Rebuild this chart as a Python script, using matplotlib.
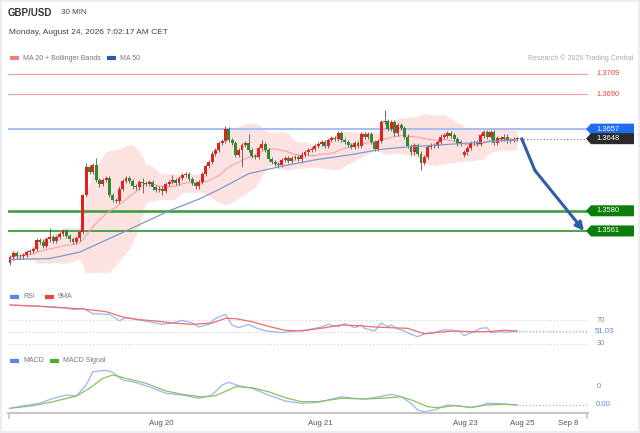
import matplotlib
matplotlib.use("Agg")
import matplotlib.pyplot as plt
import numpy as np
import pandas as pd
from matplotlib.patches import Polygon, Rectangle
from matplotlib.lines import Line2D

plt.rcParams['font.family'] = ['Liberation Sans', 'DejaVu Sans']

# ---- data (30 min candles, GBP/USD) ----
closes = [
    1.3536, 1.3540, 1.3537, 1.3537, 1.3538, 1.3541, 1.3542, 1.3544, 1.3552, 1.3551,
    1.3547, 1.3553, 1.3555, 1.3552, 1.3555, 1.3558, 1.3561, 1.3556, 1.3553, 1.3551,
    1.3554, 1.3560, 1.3595, 1.3621, 1.3617, 1.3623, 1.3609, 1.3605, 1.3609, 1.3611,
    1.3595, 1.3590, 1.3589, 1.3601, 1.3608, 1.3611, 1.3608, 1.3603, 1.3602, 1.3607,
    1.3606, 1.3605, 1.3607, 1.3602, 1.3600, 1.3601, 1.3599, 1.3605, 1.3607, 1.3609,
    1.3606, 1.3611, 1.3614, 1.3615, 1.3610, 1.3606, 1.3603, 1.3607, 1.3615, 1.3622,
    1.3626, 1.3634, 1.3637, 1.3644, 1.3646, 1.3657, 1.3647, 1.3644, 1.3633, 1.3637,
    1.3642, 1.3644, 1.3637, 1.3632, 1.3631, 1.3639, 1.3643, 1.3637, 1.3629, 1.3626,
    1.3624, 1.3623, 1.3628, 1.3630, 1.3627, 1.3630, 1.3631, 1.3629, 1.3633, 1.3635,
    1.3637, 1.3638, 1.3641, 1.3643, 1.3645, 1.3641, 1.3647, 1.3649, 1.3648, 1.3653,
    1.3647, 1.3645, 1.3642, 1.3640, 1.3644, 1.3641, 1.3652, 1.3650, 1.3652, 1.3645,
    1.3638, 1.3646, 1.3664, 1.3665, 1.3657, 1.3664, 1.3653, 1.3661, 1.3658, 1.3650,
    1.3641, 1.3635, 1.3642, 1.3634, 1.3625, 1.3631, 1.3640, 1.3642, 1.3641, 1.3645,
    1.3650, 1.3651, 1.3653, 1.3651, 1.3648, 1.3643, 1.3645, 1.3635, 1.3639, 1.3644,
    1.3645, 1.3643, 1.3651, 1.3654, 1.3650, 1.3654, 1.3644, 1.3649, 1.3648, 1.3650,
    1.3646, 1.3647, 1.3648, 1.3648,
]
first_open = 1.3531
weekend_idx = 137          # Sunday open candle
weekend_open = 1.3633

# wick lengths in pips above / below the body
wick_up = [
    2, 2, 2, 2, 2, 2, 2, 2, 2, 2,
    2, 2, 9, 2, 2, 2, 2, 2, 2, 2,
    2, 2, 1, 4, 2, 2, 7, 2, 2, 2,
    2, 2, 2, 2, 2, 2, 2, 2, 2, 2,
    4, 2, 2, 2, 2, 2, 2, 2, 2, 5,
    2, 2, 2, 2, 2, 2, 2, 2, 2, 2,
    2, 2, 2, 2, 2, 3, 2, 2, 2, 2,
    2, 2, 8, 2, 2, 2, 4, 2, 2, 2,
    2, 2, 2, 2, 2, 2, 2, 2, 2, 2,
    2, 2, 2, 2, 2, 2, 2, 2, 2, 2,
    2, 2, 2, 2, 2, 2, 2, 2, 2, 2,
    2, 2, 2, 10, 2, 2, 2, 2, 2, 2,
    2, 2, 2, 2, 2, 2, 2, 2, 2, 2,
    2, 2, 2, 2, 2, 2, 2, 2, 2, 2,
    2, 2, 2, 2, 2, 2, 2, 2, 2, 2,
    2, 2, 2, 2,
]
wick_dn = [
    2, 2, 2, 2, 2, 2, 2, 2, 2, 2,
    2, 2, 2, 2, 2, 2, 2, 2, 2, 2,
    2, 2, 2, 2, 2, 2, 2, 3, 2, 2,
    2, 2, 2, 2, 2, 2, 2, 2, 2, 2,
    9, 2, 2, 2, 2, 2, 4, 2, 2, 2,
    2, 2, 2, 2, 2, 2, 2, 2, 2, 2,
    2, 2, 2, 2, 2, 2, 2, 2, 2, 2,
    16, 2, 2, 2, 2, 2, 2, 2, 2, 2,
    2, 3, 2, 2, 2, 2, 2, 2, 4, 2,
    2, 2, 2, 2, 2, 2, 2, 2, 2, 2,
    2, 2, 2, 2, 2, 2, 2, 2, 2, 2,
    2, 2, 2, 2, 2, 2, 2, 2, 2, 2,
    2, 2, 2, 2, 7, 2, 2, 2, 2, 2,
    2, 2, 2, 2, 2, 2, 2, 2, 2, 2,
    2, 2, 2, 2, 2, 2, 2, 2, 2, 2,
    2, 2, 2, 2,
]

ma50_idx = [0, 12, 21, 35, 48, 57, 63, 72, 82, 92, 103, 112, 119, 129, 139, 153]
ma50_val = [1.3534, 1.3535, 1.3541, 1.3561, 1.3580, 1.3591, 1.3600, 1.3615,
            1.3622, 1.3628, 1.3633, 1.3638, 1.3640, 1.3642, 1.3644, 1.3647]

resistances = [1.3709, 1.3690]
pivot = 1.3657
supports = [1.3580, 1.3561]

# forecast arrow: from last close down to the second support
fc_idx = [154.4, 158.4, 173.2]
fc_mid = 1.3618

rsi_idx = [0, 9, 17, 19, 22, 25, 30, 33, 35, 39, 44, 46, 49, 52, 55, 57, 60, 62, 65,
           67, 69, 72, 74, 77, 82, 85, 90, 94, 96, 99, 101, 104, 106, 107, 110, 112,
           114, 115, 117, 118, 121, 123, 125, 128, 131, 133, 136, 137, 140, 142, 144,
           145, 148, 150, 153]
rsi_val = [95.5, 93.3, 91.0, 87.6, 89.9, 80.8, 79.6, 68.9, 74.0, 70.0, 64.9, 62.6,
           64.9, 69.4, 64.9, 58.1, 62.6, 72.8, 79.6, 61.5, 56.9, 62.6, 56.9, 51.8,
           48.4, 50.7, 53.5, 58.1, 62.6, 58.6, 63.8, 56.9, 61.5, 55.8, 51.3, 64.9,
           58.6, 61.5, 54.7, 53.5, 45.6, 41.6, 46.2, 48.4, 53.5, 53.0, 50.1, 43.3,
           50.1, 55.8, 56.9, 48.4, 50.1, 49.0, 51.03]
rsi_ma_idx = [0, 9, 15, 22, 29, 34, 39, 44, 49, 55, 61, 65, 68, 73, 78, 83, 88, 95,
              100, 105, 110, 115, 120, 125, 129, 134, 139, 144, 149, 153]
rsi_ma_val = [95.5, 93.3, 91.0, 88.8, 84.2, 75.1, 70.6, 68.3, 64.9, 62.6, 64.9, 72.8,
              72.3, 67.2, 59.2, 52.4, 51.3, 56.9, 61.5, 60.4, 58.1, 56.9, 55.8, 46.7,
              49.0, 51.3, 50.1, 50.1, 52.4, 51.3]
rsi_levels = [70, 50, 30]

macd_idx = [0, 4, 9, 13, 17, 20, 23, 25, 29, 31, 34, 37, 42, 47, 52, 57, 61, 64, 66,
            69, 73, 78, 83, 88, 93, 96, 100, 104, 107, 111, 115, 118, 121, 123, 125,
            128, 132, 136, 139, 142, 144, 148, 153]
macd_val = [-0.00033, -0.00007, 0.00017, 0.00067, 0.00100, 0.00090, 0.00200, 0.00333,
            0.00347, 0.00327, 0.00250, 0.00233, 0.00183, 0.00117, 0.00100, 0.00067,
            0.00100, 0.00200, 0.00227, 0.00193, 0.00167, 0.00100, 0.00040, 0.00017,
            0.00027, 0.00050, 0.00083, 0.00067, 0.00060, 0.00080, 0.00107, 0.00083,
            0.00017, -0.00050, -0.00067, -0.00050, 0.00000, -0.00010, -0.00027,
            -0.00007, 0.00017, 0.00013, 0.00000]
sig_idx = [0, 7, 13, 20, 24, 28, 31, 35, 41, 47, 52, 58, 62, 66, 68, 73, 78, 83, 88,
           93, 100, 107, 112, 118, 122, 126, 129, 134, 139, 144, 149, 153]
sig_val = [-0.00033, -0.00007, 0.00033, 0.00090, 0.00167, 0.00267, 0.00300, 0.00267,
           0.00217, 0.00140, 0.00107, 0.00080, 0.00093, 0.00150, 0.00183, 0.00173,
           0.00133, 0.00073, 0.00033, 0.00033, 0.00067, 0.00060, 0.00067, 0.00083,
           0.00040, -0.00017, -0.00027, -0.00007, -0.00023, 0.00000, 0.00007, 0.00000]
macd_tick = 0.0018

tick_pos = [45.5, 93.5, 137.5, 154.5, 168.5]
tick_labels = ['Aug 20', 'Aug 21', 'Aug 23', 'Aug 25', 'Sep 8']

# ---- layout ----
W, H = 640, 433
fig = plt.figure(figsize=(6.4, 4.33), dpi=100)
fig.patch.set_facecolor('white')
fig.patches.append(Rectangle((0, 0), 1, 1, transform=fig.transFigure, fill=False,
                             edgecolor='#eceef2', lw=3))


def box(x0, y0, x1, y1):
    return [x0 / W, 1 - y1 / H, (x1 - x0) / W, (y1 - y0) / H]


XMIN, XMAX = -0.6, 174.4
ax = fig.add_axes(box(8, 62, 588, 272))
ax_rsi = fig.add_axes(box(8, 300, 588, 350))
ax_macd = fig.add_axes(box(8, 365, 588, 413))
for a in (ax, ax_rsi, ax_macd):
    a.set_xlim(XMIN, XMAX)
    a.set_facecolor('none')
    for s in a.spines.values():
        s.set_visible(False)
    a.set_yticks([])
    a.set_xticks([])
ax.set_ylim(1.35223, 1.37203)
ax_rsi.set_ylim(18.94, 104.04)
ax_macd.set_ylim(-0.0008, 0.0040)

# ---- main price panel ----
c = np.array(closes)
o = np.array([first_open] + closes[:-1])
o[weekend_idx] = weekend_open
idx = np.arange(len(c))
hi = np.maximum(o, c) + np.array(wick_up) * 1e-4
lo = np.minimum(o, c) - np.array(wick_dn) * 1e-4

s = pd.Series(c)
ma20 = s.rolling(20, min_periods=1).mean()
sd = s.rolling(20, min_periods=2).std().fillna(0)
ax.fill_between(idx, ma20 - 2 * sd, ma20 + 2 * sd, color='#fde2e2', lw=0, zorder=1)
ax.plot(idx, ma20, color='#f5a3a3', lw=0.8, zorder=2)

for r in resistances:
    ax.axhline(r, color='#f4a3a3', lw=0.9, zorder=1.5)
ax.axhline(pivot, color='#a7bff3', lw=1.5, zorder=1.5)
ax.axhline(supports[0], color='#3f9c3f', lw=1.9, zorder=1.5)
ax.axhline(supports[1], color='#3f9c3f', lw=1.3, zorder=1.5)

up = c >= o
cols = np.where(up, '#e3201b', '#2f8a2f')
ax.vlines(idx, lo, hi, color='#555555', lw=0.6, zorder=3)
body = np.maximum(np.abs(c - o), 0.00004)
ax.bar(idx, body, bottom=np.minimum(o, c), width=0.88, color=cols, lw=0, zorder=4)

ax.plot(ma50_idx, ma50_val, color='#7f98cb', lw=0.9, zorder=5)

last = closes[-1]
ax.hlines(last, idx[-1] + 0.8, XMAX, colors='#777777', lw=0.8,
          linestyles=(0, (1, 2)), zorder=2)

fc_price = [last, fc_mid, supports[1]]
ax.plot(fc_idx[:2], fc_price[:2], color='#2f5ea6', lw=2.2, solid_capstyle='round', zorder=6)
ax.annotate('', xy=(fc_idx[2], fc_price[2]), xytext=(fc_idx[1], fc_price[1]),
            arrowprops=dict(arrowstyle='-|>', color='#2f5ea6', lw=2.2,
                            mutation_scale=12, shrinkA=0, shrinkB=0), zorder=6)


def fig_y(a, v):
    return fig.transFigure.inverted().transform(a.transData.transform((0, v)))[1]


def tag(a, v, text, face):
    y = fig_y(a, v)
    hh = 5.5 / H
    pts = [(586 / W, y), (591 / W, y + hh), (634 / W, y + hh), (634 / W, y - hh), (591 / W, y - hh)]
    fig.add_artist(Polygon(pts, closed=True, transform=fig.transFigure, color=face, lw=0))
    fig.text(596 / W, y, text, color='white', fontsize=5.4, va='center', ha='left')


for r in resistances:
    fig.text(596 / W, fig_y(ax, r), f'{r:.4f}', color='#e8453c', fontsize=5.4,
             va='center', ha='left')
tag(ax, pivot, f'{pivot:.4f}', '#1f6cf0')
tag(ax, last, f'{last:.4f}', '#2b2b2b')
for sp in supports:
    tag(ax, sp, f'{sp:.4f}', '#0b7d0b')

# ---- RSI panel ----
for lv in rsi_levels:
    ax_rsi.hlines(lv, XMIN, XMAX, colors='#c9c9c9', lw=0.7, linestyles=(0, (1, 2)))
ax_rsi.plot(rsi_idx, rsi_val, color='#9ab6f5', lw=0.9)
ax_rsi.plot(rsi_ma_idx, rsi_ma_val, color='#f26b6b', lw=0.9)
ax_rsi.hlines(rsi_val[-1], rsi_idx[-1] + 0.5, XMAX, colors='#8fabf2', lw=0.8,
              linestyles=(0, (1, 2)))
for lv in (70, 30):
    fig.text(597 / W, fig_y(ax_rsi, lv), str(lv), color='#888888', fontsize=5.4, va='center')
fig.text(595 / W, fig_y(ax_rsi, rsi_val[-1]), f'{rsi_val[-1]:.2f}', color='#5b86e5',
         fontsize=5.6, va='center')

# ---- MACD panel ----
ax_macd.plot(macd_idx, macd_val, color='#9ab6f5', lw=0.9)
ax_macd.plot(sig_idx, sig_val, color='#8cc063', lw=0.9)
ax_macd.hlines(macd_val[-1], macd_idx[-1] + 0.5, XMAX, colors='#8fabf2', lw=0.8,
               linestyles=(0, (1, 2)))
fig.text(597 / W, fig_y(ax_macd, macd_tick), f'{macd_tick:.0f}', color='#888888',
         fontsize=5.4, va='center')
fig.text(596 / W, fig_y(ax_macd, macd_val[-1]), f'{abs(macd_val[-1]):.2f}', color='#5b86e5',
         fontsize=5.6, va='center')

ax_macd.spines['bottom'].set_visible(True)
ax_macd.spines['bottom'].set_color('#c6c6c6')
ax_macd.spines['bottom'].set_linewidth(1.5)
ax_macd.set_xticks(tick_pos)
ax_macd.set_xticklabels(tick_labels, fontsize=5.6, color='#555555')
ax_macd.tick_params(axis='x', length=0, pad=5)
ax_macd.set_xticks([XMIN + 0.2, XMAX - 0.2], minor=True)
ax_macd.tick_params(axis='x', which='minor', length=4, width=1.2, color='#c6c6c6')

# ---- header and legends ----
def px(x, y):
    return x / W, 1 - y / H


fig.text(*px(8, 13), 'GBP/USD', fontsize=7, fontweight='bold', color='#333333', va='center')
fig.text(*px(61, 13), '30 MIN', fontsize=5.8, color='#444444', va='center')
fig.text(*px(9, 33), 'Monday, August 24, 2026 7:02:17 AM CET', fontsize=6, color='#444444',
         va='center')
fig.text(*px(633, 58), 'Research \u00a9 2026 Trading Central', fontsize=5, color='#aaaaaa',
         va='center', ha='right')


def swatch(x, y, color, label):
    x0, y0 = px(x, y)
    x1, _ = px(x + 9, y)
    fig.add_artist(Line2D([x0, x1], [y0, y0], lw=3, color=color, solid_capstyle='butt',
                          transform=fig.transFigure))
    fig.text(*px(x + 13, y), label, fontsize=5, color='#777777', va='center')


swatch(10, 58, '#f47c7c', 'MA 20 + Bollinger Bands')
swatch(107, 58, '#2e5ea8', 'MA 50')
swatch(10, 297, '#5b86e5', 'RSI')
swatch(45, 297, '#e8453c', '9MA')
swatch(10, 361, '#5b86e5', 'MACD')
swatch(50, 361, '#4caf24', 'MACD Signal')

fig.savefig('out.png', dpi=100, facecolor='white')
